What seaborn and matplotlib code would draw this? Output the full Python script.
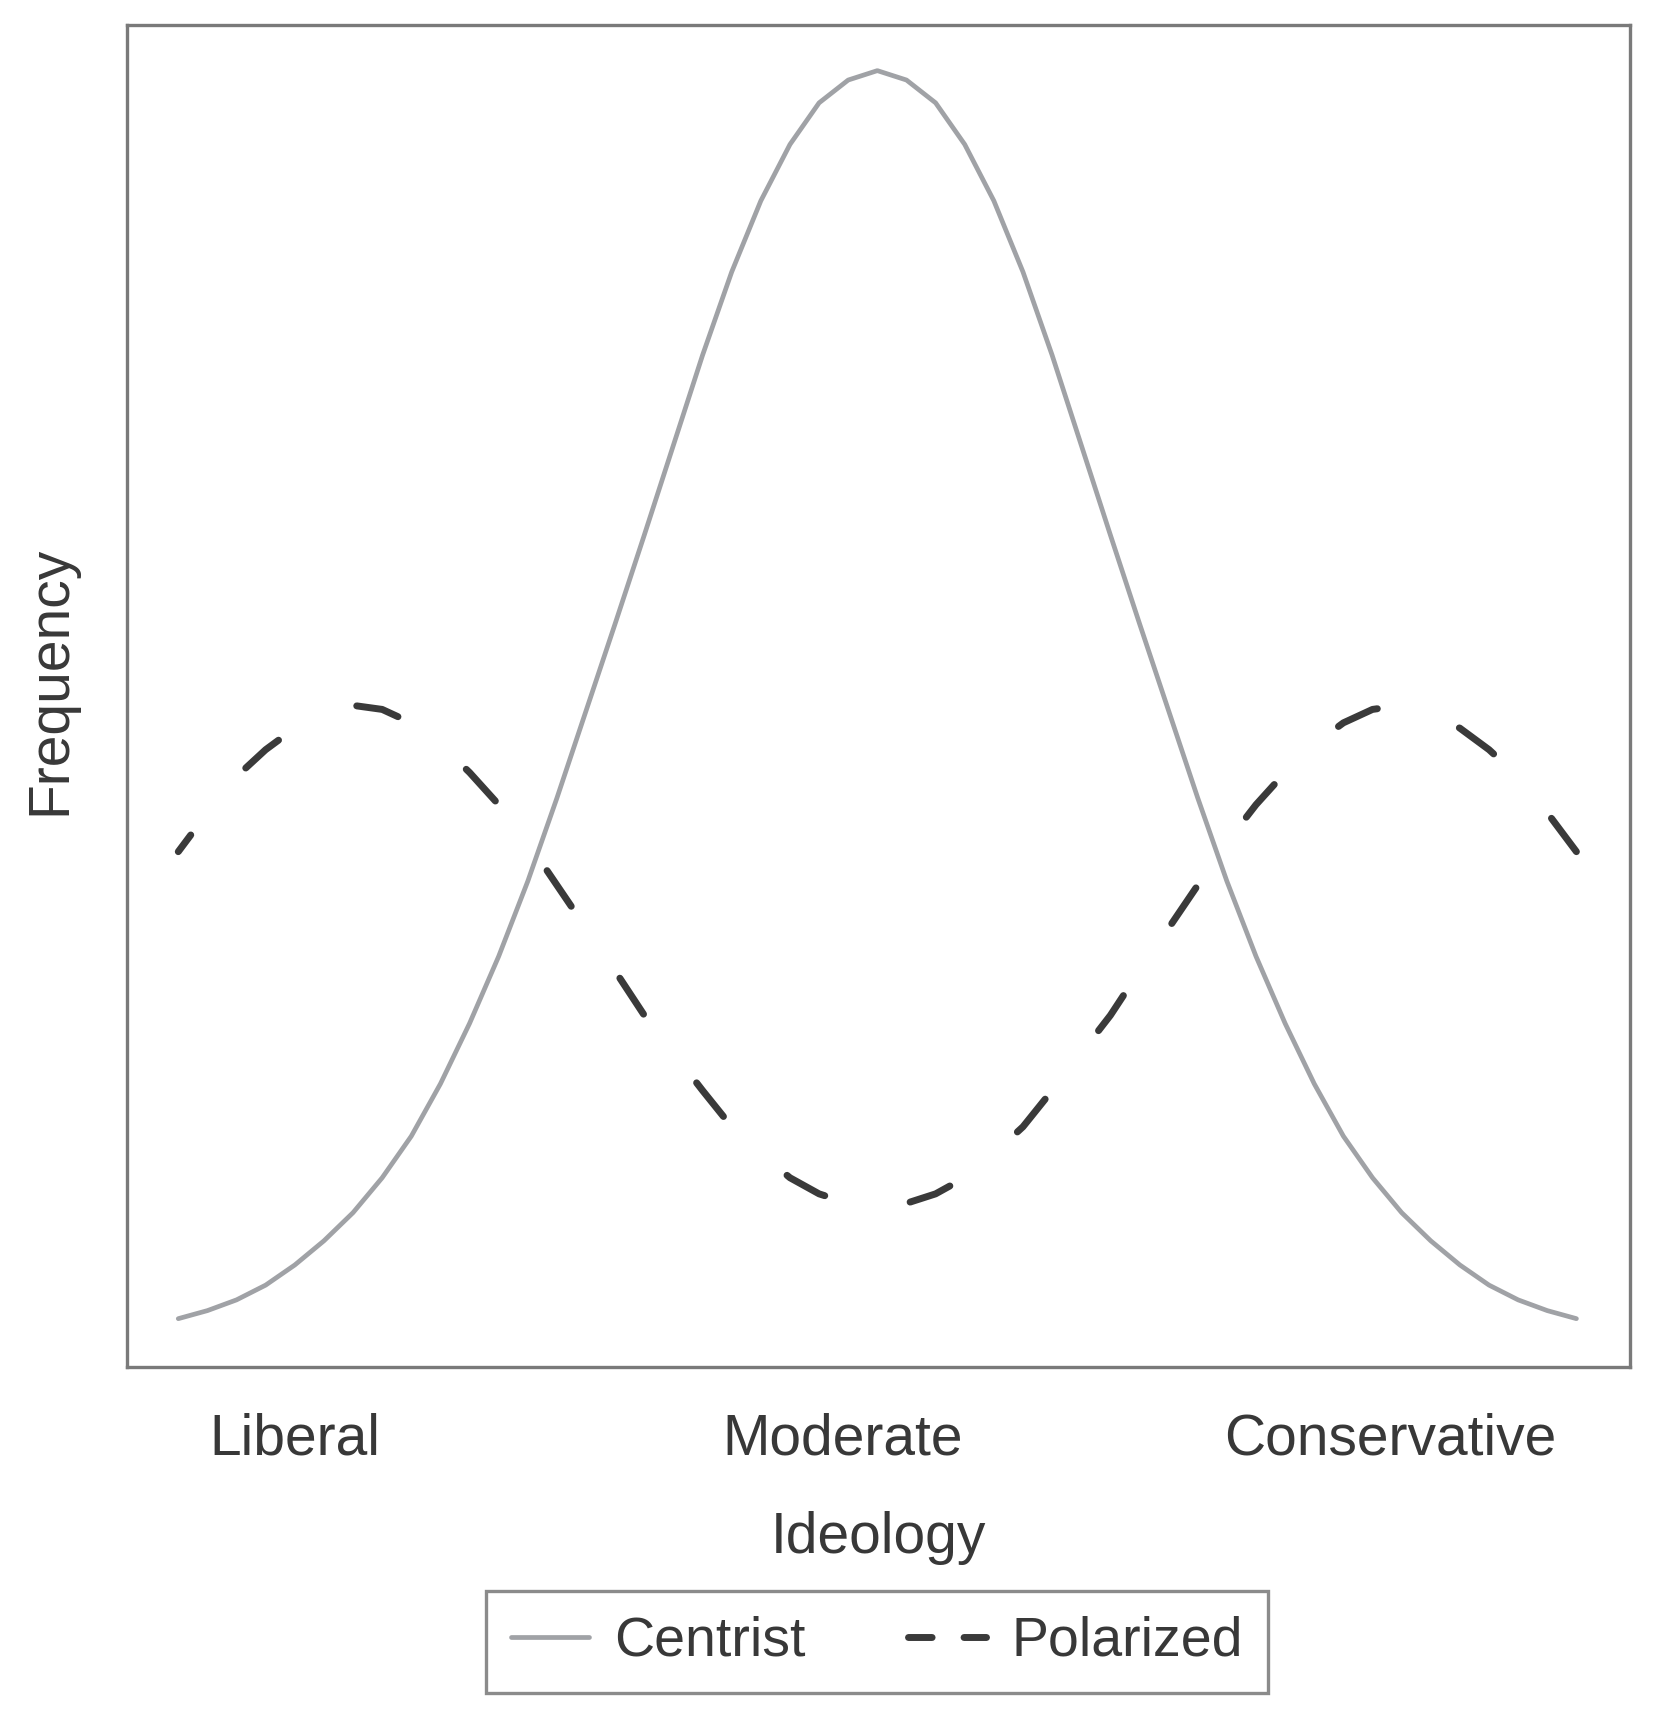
import pandas as pd
import matplotlib
matplotlib.use("Agg")
import matplotlib.pyplot as plt
import seaborn as sns

# Valores (escala de ideologia -3..3, frecuencia 0..1)
ideology = [-3.0, -2.875, -2.75, -2.625, -2.5, -2.375, -2.25, -2.125, -2.0,
            -1.875, -1.75, -1.625, -1.5, -1.375, -1.25, -1.125, -1.0,
            -0.875, -0.75, -0.625, -0.5, -0.375, -0.25, -0.125, 0.0,
            0.125, 0.25, 0.375, 0.5, 0.625, 0.75, 0.875, 1.0,
            1.125, 1.25, 1.375, 1.5, 1.625, 1.75, 1.875, 2.0,
            2.125, 2.25, 2.375, 2.5, 2.625, 2.75, 2.875, 3.0]

centrist = [0.036, 0.042, 0.050, 0.061, 0.076, 0.094, 0.115, 0.141, 0.172,
            0.211, 0.256, 0.306, 0.362, 0.424, 0.489, 0.554, 0.620,
            0.687, 0.754, 0.816, 0.869, 0.911, 0.942, 0.959, 0.966,
            0.959, 0.942, 0.911, 0.869, 0.816, 0.754, 0.687, 0.620,
            0.554, 0.489, 0.424, 0.362, 0.306, 0.256, 0.211, 0.172,
            0.141, 0.115, 0.094, 0.076, 0.061, 0.050, 0.042, 0.036]

polarized = [0.384, 0.413, 0.440, 0.460, 0.476, 0.487, 0.493, 0.490, 0.480,
             0.464, 0.443, 0.419, 0.391, 0.359, 0.327, 0.295, 0.262,
             0.234, 0.206, 0.179, 0.159, 0.141, 0.129, 0.122, 0.121,
             0.122, 0.129, 0.141, 0.159, 0.179, 0.206, 0.234, 0.262,
             0.295, 0.327, 0.359, 0.391, 0.419, 0.443, 0.464, 0.480,
             0.490, 0.493, 0.487, 0.476, 0.460, 0.440, 0.413, 0.384]

tick_pos = [-2.5, -0.15, 2.2]
tick_labels = ["Liberal", "Moderate", "Conservative"]

df = pd.DataFrame({"ideology": ideology, "Centrist": centrist, "Polarized": polarized})

sns.set_theme(style="white")
plt.rcParams["font.family"] = ["Liberation Sans", "DejaVu Sans"]
text_color = "#383838"

fig = plt.figure(figsize=(16.56, 17.13), dpi=100)
ax = fig.add_axes([0.0767, 0.2020, 0.9076, 0.7834])

sns.lineplot(data=df, x="ideology", y="Centrist", color="#a0a2a6",
             linewidth=3.4, label="Centrist", ax=ax,
             solid_joinstyle="round")
sns.lineplot(data=df, x="ideology", y="Polarized", color="#3a3a3a",
             linewidth=5.0, linestyle=(3.2, (6.2, 12.5)),
             dash_capstyle="round", dash_joinstyle="round",
             label="Polarized", ax=ax)

ax.set_xlim(-3.22, 3.23)
ax.set_ylim(0, 1)
ax.set_yticks([])
ax.set_xticks(tick_pos)
ax.set_xticklabels(tick_labels, fontsize=41, color=text_color)
ax.tick_params(axis="x", length=0, pad=33)

ax.set_xlabel("Ideology", fontsize=41, color=text_color, labelpad=32)
ax.set_ylabel("Frequency", fontsize=41, color=text_color)
ax.yaxis.set_label_coords(-0.033, 0.512)

for s in ax.spines.values():
    s.set_visible(True)
    s.set_color("#7a7a7a")
    s.set_linewidth(2.4)

leg = ax.legend(loc="lower center", bbox_to_anchor=(0.5296, 0.0117),
                bbox_transform=fig.transFigure, ncol=2, frameon=True,
                fancybox=False, edgecolor="#6e6e6e", fontsize=40,
                handlelength=1.4, handletextpad=0.45, columnspacing=1.85,
                borderpad=0.45, borderaxespad=0)
leg.get_frame().set_linewidth(2.4)
for t in leg.get_texts():
    t.set_color(text_color)
leg.legend_handles[1].set_linestyle((0, (3.4, 4.6)))

fig.savefig("out.png", dpi=100, facecolor="white")
